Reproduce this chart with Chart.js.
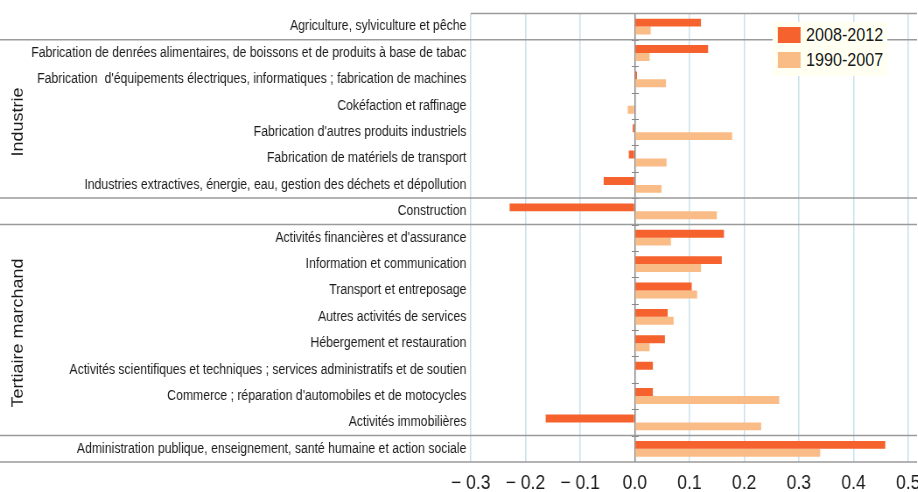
<!DOCTYPE html>
<html>
<head>
<meta charset="utf-8">
<script src="https://cdn.jsdelivr.net/npm/chart.js@4.4.1/dist/chart.umd.min.js"></script>
<style>
  html, body { margin: 0; padding: 0; background: #fff; overflow: hidden; }
  /* the original picture is squeezed horizontally; draw wider, then scale down */
  #wrap { position: relative; width: 1049px; height: 492px; transform: scaleX(0.875); transform-origin: 0 0; }
  #legend {
    position: absolute; left: 883px; top: 22px; width: 131px; height: 54px;
    background: #fffff2; font-family: 'Liberation Sans', sans-serif;
    font-size: 18.5px; color: #1a1a1a;
  }
  #legend .row { position: absolute; left: 6px; height: 16px; line-height: 16px; white-space: nowrap; }
  #legend .sw { display: inline-block; width: 26px; height: 16px; vertical-align: top; margin-right: 6px; }
</style>
</head>
<body>
<div id="wrap">
  <canvas id="chart" width="1049" height="492"></canvas>
  <div id="legend">
    <div class="row" style="top:5px"><span class="sw" style="background:#f5622d"></span>2008-2012</div>
    <div class="row" style="top:30px"><span class="sw" style="background:#f9bc87"></span>1990-2007</div>
  </div>
</div>
<script>
// categories, top to bottom
const sectors = [
  'Agriculture, sylviculture et pêche',
  'Fabrication de denrées alimentaires, de boissons et de produits à base de tabac',
  'Fabrication  d\'équipements électriques, informatiques ; fabrication de machines',
  'Cokéfaction et raffinage',
  'Fabrication d\'autres produits industriels',
  'Fabrication de matériels de transport',
  'Industries extractives, énergie, eau, gestion des déchets et dépollution',
  'Construction',
  'Activités financières et d\'assurance',
  'Information et communication',
  'Transport et entreposage',
  'Autres activités de services',
  'Hébergement et restauration',
  'Activités scientifiques et techniques ; services administratifs et de soutien',
  'Commerce ; réparation d\'automobiles et de motocycles',
  'Activités immobilières',
  'Administration publique, enseignement, santé humaine et action sociale'
];

const recent = [0.121, 0.134, 0.004, 0, -0.004, -0.011, -0.057, -0.229, 0.163,
                0.159, 0.104, 0.060, 0.055, 0.033, 0.033, -0.163, 0.458];
const older  = [0.029, 0.027, 0.057, -0.013, 0.178, 0.058, 0.049, 0.150, 0.066,
                0.121, 0.114, 0.071, 0.027, 0, 0.264, 0.231, 0.339];

const xTicks = [-0.3, -0.2, -0.1, 0.0, 0.1, 0.2, 0.3, 0.4, 0.5];

// groups: label, first index, last index
const groups = [
  { label: 'Industrie', from: 1, to: 6 },
  { label: 'Tertiaire marchand', from: 8, to: 15 }
];
// separator lines drawn below these indexes
const separators = [0, 6, 7, 15, 16];

const font = "'Liberation Sans', sans-serif";

const decorations = {
  id: 'decorations',
  afterDraw(chart) {
    const { ctx, chartArea, width } = chart;
    const y = chart.scales.y, x = chart.scales.x;
    const half = (y.getPixelForValue(1) - y.getPixelForValue(0)) / 2;
    const x0 = x.getPixelForValue(0);
    ctx.save();
    // small ticks on the zero line at category boundaries
    ctx.strokeStyle = '#888';
    ctx.lineWidth = 1;
    for (let i = 0; i < sectors.length - 1; i++) {
      const yy = Math.round(y.getPixelForValue(i) + half) + 0.5;
      ctx.beginPath(); ctx.moveTo(x0 - 3.5, yy); ctx.lineTo(x0 + 4.5, yy); ctx.stroke();
    }
    // top line
    ctx.strokeStyle = '#9a9a9a';
    ctx.lineWidth = 1.5;
    ctx.beginPath(); ctx.moveTo(chartArea.left, chartArea.top); ctx.lineTo(width - 1, chartArea.top); ctx.stroke();
    // group separators
    separators.forEach(i => {
      const yy = y.getPixelForValue(i) + half;
      ctx.beginPath(); ctx.moveTo(0, yy); ctx.lineTo(width - 1, yy); ctx.stroke();
    });
    // group labels
    ctx.fillStyle = '#1a1a1a';
    ctx.font = '18px ' + font;
    ctx.textAlign = 'center';
    ctx.textBaseline = 'middle';
    groups.forEach(g => {
      const cy = (y.getPixelForValue(g.from) + y.getPixelForValue(g.to)) / 2;
      ctx.save();
      ctx.translate(21, cy + 3);
      ctx.rotate(-Math.PI / 2);
      ctx.fillText(g.label, 0, 0);
      ctx.restore();
    });
    ctx.restore();
  }
};

new Chart(document.getElementById('chart'), {
  type: 'bar',
  data: {
    labels: sectors,
    datasets: [
      { label: '2008-2012', data: recent, backgroundColor: '#f5622d', barPercentage: 1, categoryPercentage: 0.6 },
      { label: '1990-2007', data: older, backgroundColor: '#f9bc87', barPercentage: 1, categoryPercentage: 0.6 }
    ]
  },
  options: {
    indexAxis: 'y',
    responsive: false,
    animation: false,
    layout: { padding: { top: 11, right: 11, left: 0, bottom: 0 } },
    plugins: { legend: { display: false }, tooltip: { enabled: false } },
    scales: {
      x: {
        min: -0.3, max: 0.5,
        afterBuildTicks: s => { s.ticks = xTicks.map(v => ({ value: v })); },
        afterFit: s => { s.height = 30; s.paddingLeft = 0; s.paddingRight = 0; },
        ticks: {
          color: '#1a1a1a', padding: 9,
          font: { family: font, size: 20 },
          callback: v => (v < -0.001 ? '\u2212 ' : '') + Math.abs(v).toFixed(1)
        },
        grid: {
          drawTicks: false,
          color: c => Math.abs(c.tick.value) < 1e-9 ? '#8a8a8a' : '#c8e0ec',
          lineWidth: 1.5
        },
        border: { display: false }
      },
      y: {
        afterFit: s => { s.width = 538; },
        ticks: { color: '#1a1a1a', padding: 5, font: { family: font, size: 14 }, autoSkip: false },
        grid: { display: false, drawTicks: false },
        border: { display: false }
      }
    }
  },
  plugins: [decorations]
});
</script>
</body>
</html>
